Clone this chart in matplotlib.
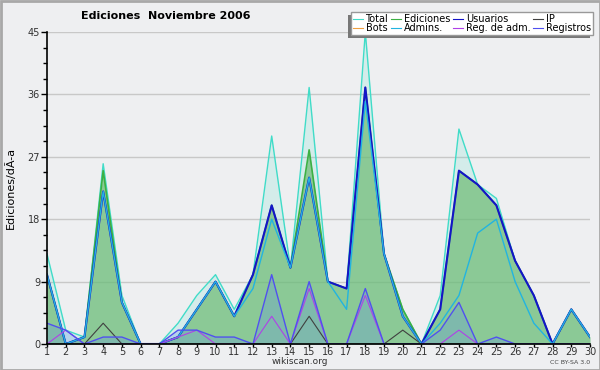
import numpy as np
import matplotlib
matplotlib.use("Agg")
import matplotlib.pyplot as plt
from matplotlib.patches import Rectangle
from matplotlib.ticker import MultipleLocator

days = list(range(1, 31))
total = [13, 2, 1, 26, 7, 0, 0, 3, 7, 10, 5, 10, 30, 11, 37, 9, 8, 45, 13, 5,
         0, 7, 31, 23, 21, 12, 7, 0, 5, 1]
ediciones = [10, 0, 1, 25, 6, 0, 0, 1, 5, 9, 4, 10, 20, 11, 28, 9, 8, 37, 13, 5,
             0, 5, 25, 23, 20, 12, 7, 0, 5, 1]
usuarios = [10, 0, 1, 22, 6, 0, 0, 1, 5, 9, 4, 10, 20, 11, 24, 9, 8, 37, 13, 4,
            0, 5, 25, 23, 20, 12, 7, 0, 5, 1]
ip = [0, 0, 0, 3, 0, 0, 0, 0, 0, 0, 0, 0, 0, 0, 4, 0, 0, 0, 0, 2,
      0, 0, 0, 0, 0, 0, 0, 0, 0, 0]
bots = [0] * 30
admins = [10, 0, 1, 22, 6, 0, 0, 1, 5, 9, 4, 8, 18, 11, 24, 9, 5, 35, 13, 4,
          0, 3, 7, 16, 18, 9, 3, 0, 5, 1]
reg_adm = [0, 2, 0, 0, 0, 0, 0, 1, 2, 0, 0, 0, 4, 0, 8, 0, 0, 7, 0, 0,
           0, 0, 2, 0, 0, 0, 0, 0, 0, 0]
registros = [3, 2, 0, 1, 1, 0, 0, 2, 2, 1, 1, 0, 10, 0, 9, 0, 0, 8, 0, 0,
             0, 2, 6, 0, 1, 0, 0, 0, 0, 0]

BG = "#eeeff1"
C_TOTAL = "#40dcc8"
C_ED = "#3cb043"
C_US = "#1414c8"
C_IP = "#404040"
C_BOTS = "#f0a040"
C_ADM = "#22b4e0"
C_REGADM = "#b040e8"
C_REG = "#5050f0"

plt.rcParams.update({"font.family": "DejaVu Sans", "font.size": 7})

fig = plt.figure(figsize=(6, 3.7), dpi=100, facecolor=BG)
ax = fig.add_axes([47 / 600, 26 / 370, 543 / 600, 312 / 370])
ax.set_facecolor(BG)

ax.fill_between(days, total, color=C_TOTAL, alpha=0.15, lw=0, zorder=1)
ax.fill_between(days, ediciones, color="#6dbb73", alpha=0.7, lw=0, zorder=2)
ax.fill_between(days, registros, color="#5a8af0", alpha=0.25, lw=0, zorder=3)

ax.plot(days, total, color=C_TOTAL, lw=1.0, zorder=4, label="Total")
ax.plot(days, ediciones, color=C_ED, lw=1.2, zorder=5, label="Ediciones")
ax.plot(days, usuarios, color=C_US, lw=1.5, zorder=6, label="Usuarios")
ax.plot(days, ip, color=C_IP, lw=0.8, zorder=7, label="IP")
ax.plot(days, bots, color=C_BOTS, lw=0.8, zorder=2.5, label="Bots")
ax.plot(days, admins, color=C_ADM, lw=1.0, zorder=8, label="Admins.")
ax.plot(days, reg_adm, color=C_REGADM, lw=0.8, zorder=9, label="Reg. de adm.")
ax.plot(days, registros, color=C_REG, lw=1.0, zorder=10, label="Registros")

ax.set_xlim(1, 30)
ax.set_ylim(0, 45)
ax.set_xticks(days)
ax.yaxis.set_major_locator(MultipleLocator(9))
ax.yaxis.set_minor_locator(MultipleLocator(2.25))
ax.grid(axis="y", color="#c8c8c8", lw=1.0, zorder=0)
ax.set_axisbelow(True)
ax.tick_params(axis="y", which="major", length=4, width=1, pad=1,
               labelsize=7, labelcolor="#333333")
ax.tick_params(axis="y", which="minor", length=3, width=1)
ax.tick_params(axis="x", which="major", length=2, width=1, pad=0,
               labelsize=7, labelcolor="#333333")
for s in ("top", "right"):
    ax.spines[s].set_visible(False)
for s in ("left", "bottom"):
    ax.spines[s].set_linewidth(1.2)
    ax.spines[s].set_zorder(20)
ax.set_ylabel("Ediciones/dÃ-a", fontsize=8)
ax.yaxis.set_label_coords(-31 / 543, 0.5)

handles, labels = ax.get_legend_handles_labels()
order = ["Total", "Bots", "Ediciones", "Admins.", "Usuarios", "Reg. de adm.",
         "IP", "Registros"]
hl = dict(zip(labels, handles))
leg = ax.legend([hl[k] for k in order], order, ncol=4, loc="upper right",
                bbox_to_anchor=(593 / 600, 1 - 12 / 370),
                bbox_transform=fig.transFigure, fontsize=7, frameon=True,
                fancybox=False, edgecolor="#999999", facecolor="white",
                framealpha=1, handlelength=1.0, handletextpad=0.3,
                columnspacing=0.3, labelspacing=-0.05, borderpad=0.2,
                borderaxespad=0)
leg.set_zorder(30)
leg.get_frame().set_linewidth(1.0)
for line in leg.get_lines():
    line.set_linewidth(0.8)

fig.text(166 / 600, 1 - 16 / 370, "Ediciones  Noviembre 2006", ha="center",
         va="center", fontsize=8, fontweight="bold")
fig.text(300 / 600, 1 - 362 / 370, "wikiscan.org", ha="center", va="center",
         fontsize=6.5, color="#333333")
fig.text(590 / 600, 1 - 362 / 370, "CC BY-SA 3.0", ha="right", va="center",
         fontsize=4.5, color="#444444")
fig.patches.append(Rectangle((0.5 / 600, 0.5 / 370), 1 - 1 / 600, 1 - 1 / 370,
                             transform=fig.transFigure, fill=False,
                             edgecolor="#a8a8a8", lw=2))

# shadow below-left of the legend box, drawn just under the legend
fig.canvas.draw()
bb = leg.get_window_extent().transformed(fig.transFigure.inverted())
ax.add_patch(Rectangle((bb.x0 - 3 / 600, bb.y0 - 3 / 370), bb.width,
                       bb.height, transform=fig.transFigure,
                       facecolor="#777777", edgecolor="none", zorder=29,
                       clip_on=False))

fig.savefig("out.png", dpi=100, facecolor=BG)
